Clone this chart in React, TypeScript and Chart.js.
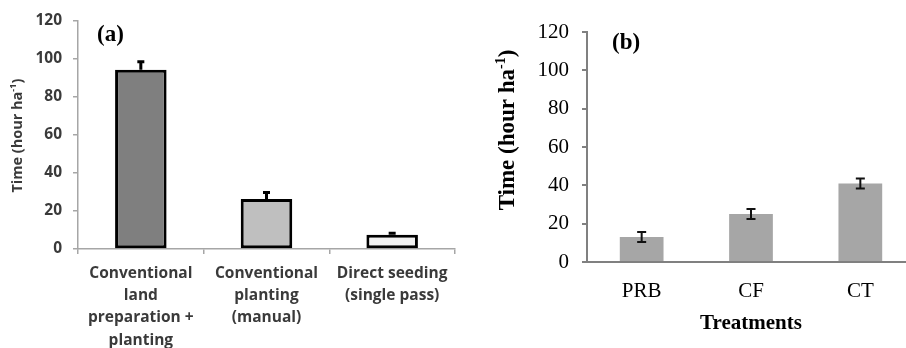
import React, { useEffect, useRef } from "react";
import { Chart, registerables } from "chart.js";

Chart.register(...registerables);

// ---------- Data ----------
const categoriesA: string[][] = [
  ["Conventional", "land", "preparation +", "planting"],
  ["Conventional", "planting", "(manual)"],
  ["Direct seeding", "(single pass)"],
];
const valuesA = [94, 26.2, 7.5];
const errorsA = [4.2, 3.4, 0.8];
const barColorsA = ["#7f7f7f", "#bfbfbf", "#f2f2f2"];

const categoriesB = ["PRB", "CF", "CT"];
const valuesB = [13, 25, 41];
const errorsB = [2.6, 2.6, 2.6];

const yMin = 0;
const yMax = 120;
const yStep = 20;

// ---------- Plugins ----------
const errorBarsPlugin = {
  id: "errorBars",
  afterDatasetsDraw(chart: any, _args: any, opts: any) {
    const { ctx } = chart;
    const meta = chart.getDatasetMeta(0);
    const y = chart.scales.y;
    const data = chart.data.datasets[0].data as number[];
    ctx.save();
    ctx.strokeStyle = opts.color || "#000";
    ctx.lineWidth = opts.lineWidth || 2;
    ctx.lineCap = "butt";
    meta.data.forEach((bar: any, i: number) => {
      const v = data[i];
      const e = opts.errors[i];
      const top = y.getPixelForValue(v + e);
      const bottom = opts.plusOnly ? bar.y : y.getPixelForValue(v - e);
      const c = opts.cap;
      ctx.beginPath();
      ctx.moveTo(bar.x, top);
      ctx.lineTo(bar.x, bottom);
      ctx.moveTo(bar.x - c, top);
      ctx.lineTo(bar.x + c, top);
      if (!opts.plusOnly) {
        ctx.moveTo(bar.x - c, bottom);
        ctx.lineTo(bar.x + c, bottom);
      }
      ctx.stroke();
    });
    ctx.restore();
  },
};

const annotationsPlugin = {
  id: "panelText",
  afterDraw(chart: any, _args: any, opts: any) {
    const { ctx, chartArea } = chart;
    ctx.save();
    // panel label
    ctx.fillStyle = "#000";
    ctx.font = opts.labelFont;
    ctx.textAlign = "left";
    ctx.textBaseline = "middle";
    ctx.fillText(opts.label, chartArea.left + opts.labelDx, chartArea.top + opts.labelDy);

    // rotated y title with superscript
    ctx.translate(opts.titleX, chartArea.top + (chartArea.bottom - chartArea.top) / 2 + opts.titleDy);
    ctx.rotate(-Math.PI / 2);
    ctx.fillStyle = opts.titleColor;
    const main = "Time (hour ha";
    const sup = "-1";
    const close = ")";
    ctx.font = opts.titleFont;
    const wMain = ctx.measureText(main).width;
    const wClose = ctx.measureText(close).width;
    ctx.font = opts.supFont;
    const wSup = ctx.measureText(sup).width;
    const total = wMain + wSup + wClose;
    let x = -total / 2;
    ctx.textAlign = "left";
    ctx.textBaseline = "middle";
    ctx.font = opts.titleFont;
    ctx.fillText(main, x, 0);
    x += wMain;
    ctx.font = opts.supFont;
    ctx.fillText(sup, x, -opts.supRaise);
    x += wSup;
    ctx.font = opts.titleFont;
    ctx.fillText(close, x, 0);
    ctx.restore();
  },
};

// ---------- Panel A ----------
function PanelA() {
  const ref = useRef<HTMLCanvasElement>(null);
  useEffect(() => {
    const axisGrey = "#a6a6a6";
    const chart = new Chart(ref.current!, {
      type: "bar",
      data: {
        labels: categoriesA,
        datasets: [
          {
            data: valuesA,
            backgroundColor: barColorsA,
            borderColor: "#000",
            borderWidth: 3,
            borderSkipped: false,
            barPercentage: 0.41,
            categoryPercentage: 1,
          },
        ],
      },
      options: {
        animation: false,
        responsive: false,
        layout: { padding: { top: 20, right: 5, left: 0, bottom: 0 } },
        plugins: {
          legend: { display: false },
          tooltip: { enabled: false },
          errorBars: { errors: errorsA, plusOnly: true, cap: 3.5, lineWidth: 3, color: "#000" },
          panelText: {
            label: "(a)",
            labelFont: "bold 23px 'Liberation Serif'",
            labelDx: 19,
            labelDy: 15,
            titleX: 18,
            titleDy: 1,
            titleColor: "#3a3a3a",
            titleFont: "bold 14.5px 'Open Sans'",
            supFont: "bold 9px 'Open Sans'",
            supRaise: 5,
          },
        } as any,
        scales: {
          x: {
            offset: true,
            afterFit: (s: any) => {
              s.height = 99;
            },
            grid: {
              offset: true,
              drawOnChartArea: false,
              drawTicks: true,
              tickLength: 5,
              color: axisGrey,
              lineWidth: 1.5,
            },
            border: { color: axisGrey, width: 1.5 },
            ticks: {
              color: "#3a3a3a",
              font: { family: "'Open Sans'", weight: "bold", size: 15.5, lineHeight: 1.44 },
              padding: 8,
              maxRotation: 0,
              autoSkip: false,
            },
          },
          y: {
            min: yMin,
            max: yMax,
            afterFit: (s: any) => {
              s.width = 78;
            },
            grid: {
              drawOnChartArea: false,
              drawTicks: true,
              tickLength: 5,
              color: axisGrey,
              lineWidth: 1.5,
            },
            border: { color: axisGrey, width: 1.5 },
            ticks: {
              stepSize: yStep,
              color: "#3a3a3a",
              font: { family: "'Open Sans'", weight: "bold", size: 15.5 },
              padding: 11,
            },
          },
        },
      },
      plugins: [errorBarsPlugin, annotationsPlugin],
    });
    return () => chart.destroy();
  }, []);
  return (
    <canvas
      ref={ref}
      width={460}
      height={348}
      style={{ position: "absolute", left: 0, top: 0, width: 460, height: 348 }}
    />
  );
}

// ---------- Panel B ----------
function PanelB() {
  const ref = useRef<HTMLCanvasElement>(null);
  useEffect(() => {
    const axisGrey = "#808080";
    const chart = new Chart(ref.current!, {
      type: "bar",
      data: {
        labels: categoriesB,
        datasets: [
          {
            data: valuesB,
            backgroundColor: "#a6a6a6",
            borderWidth: 0,
            barPercentage: 0.4,
            categoryPercentage: 1,
          },
        ],
      },
      options: {
        animation: false,
        responsive: false,
        layout: { padding: { top: 32, right: 15, left: 0, bottom: 0 } },
        plugins: {
          legend: { display: false },
          tooltip: { enabled: false },
          errorBars: { errors: errorsB, plusOnly: false, cap: 4.5, lineWidth: 2, color: "#111" },
          panelText: {
            label: "(b)",
            labelFont: "bold 23px 'Liberation Serif'",
            labelDx: 25,
            labelDy: 11,
            titleX: 48,
            titleDy: -17,
            titleColor: "#000",
            titleFont: "bold 23px 'Liberation Serif'",
            supFont: "bold 14px 'Liberation Serif'",
            supRaise: 7,
          },
        } as any,
        scales: {
          x: {
            offset: true,
            afterFit: (s: any) => {
              s.height = 86;
            },
            grid: {
              offset: true,
              drawOnChartArea: false,
              drawTicks: false,
              color: axisGrey,
            },
            border: { color: axisGrey, width: 2 },
            ticks: {
              color: "#000",
              font: { family: "Liberation Serif", size: 21, lineHeight: 1.2 },
              padding: 17,
              maxRotation: 0,
              autoSkip: false,
            },
            title: {
              display: true,
              text: "Treatments",
              color: "#000",
              font: { family: "Liberation Serif", size: 21, weight: "bold", lineHeight: 1.2 },
              padding: { top: 12, bottom: 12 },
            },
          },
          y: {
            min: yMin,
            max: yMax,
            afterFit: (s: any) => {
              s.width = 127;
            },
            grid: {
              drawOnChartArea: false,
              drawTicks: true,
              tickLength: 5,
              color: axisGrey,
              lineWidth: 2,
            },
            border: { color: axisGrey, width: 2 },
            ticks: {
              stepSize: yStep,
              color: "#000",
              font: { family: "Liberation Serif", size: 21 },
              padding: 13,
            },
          },
        },
      },
      plugins: [errorBarsPlugin, annotationsPlugin],
    });
    return () => chart.destroy();
  }, []);
  return (
    <canvas
      ref={ref}
      width={470}
      height={348}
      style={{ position: "absolute", left: 460, top: 0, width: 470, height: 348 }}
    />
  );
}

export default function App() {
  return (
    <div
      style={{
        position: "fixed",
        left: 0,
        top: 0,
        width: 906,
        height: 348,
        overflow: "hidden",
        background: "#fff",
      }}
    >
      <PanelA />
      <PanelB />
    </div>
  );
}
